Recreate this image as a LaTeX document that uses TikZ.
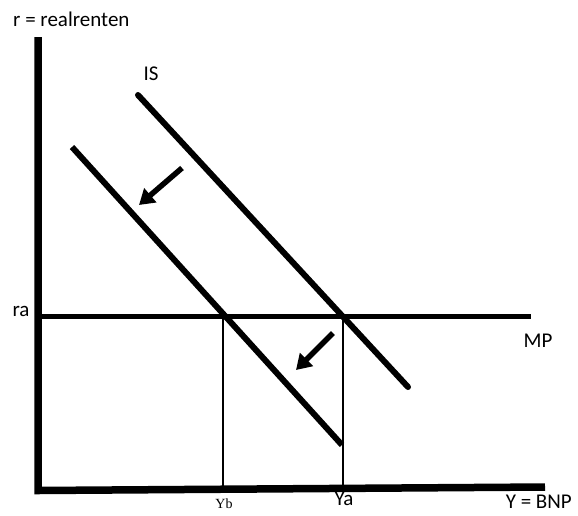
\documentclass[tikz,border=0pt]{standalone}
\usepackage{fontspec}
\setmainfont{Carlito}
\newfontfamily\smallserif{Liberation Serif}
\usetikzlibrary{arrows.meta}
\tikzset{>={Triangle[length=15pt,width=18pt]}}
\tikzset{
  axisline/.style={line width=7.5pt},
  curveline/.style={line width=6pt, line cap=round},
  guideline/.style={line width=1.6pt},
  shiftarrow/.style={line width=5.5pt, ->},
  lbl/.style={inner sep=0pt, font=\fontsize{21}{24}\selectfont}
}

\begin{document}
\begin{tikzpicture}[x=1pt, y=-1pt]
  \useasboundingbox (0,0) rectangle (578,515);

  % punkter
  \coordinate (O) at (38,487);
  \coordinate (Ytop) at (38,37);
  \coordinate (Xend) at (545,487);
  \coordinate (Ra) at (38,316);
  \coordinate (MPend) at (531,316);
  \coordinate (IS1) at (138,95);
  \coordinate (IS2) at (408,387);
  \coordinate (ISb1) at (72,147);
  \coordinate (ISb2) at (342,445);
  \coordinate (B) at (223,316);
  \coordinate (A) at (343,316);
  \coordinate (Bx) at (223,487);
  \coordinate (Ax) at (343,487);
  \coordinate (P1) at (182,168);
  \coordinate (Q1) at (139,205);
  \coordinate (P2) at (333,333);
  \coordinate (Q2) at (296,370);

  % akser
  \draw[axisline] (Ytop) -- ([yshift=-3.5pt]O) -- (Xend);

  % kurver
  \draw[line width=5pt] (Ra) -- (MPend);
  \draw[curveline] (IS1) -- (IS2);
  \draw[curveline, line cap=butt] (ISb1) -- (ISb2);
  \draw[guideline] (B) -- (Bx);
  \draw[guideline] (A) -- (Ax);

  % pile
  \draw[shiftarrow] (P1) -- (Q1);
  \draw[shiftarrow] (P2) -- (Q2);

  % tekster
  \node[lbl, anchor=west] (rlab) at (13,19) {r = realrenten};
  \node[lbl] (islab) at (151,74) {IS};
  \node[lbl] (ralab) at (21,311) {ra};
  \node[lbl] (mplab) at (538,341) {MP};
  \node[inner sep=0pt, font=\smallserif\fontsize{14}{16}\selectfont] (yblab) at (224,504) {Yb};
  \node[lbl] (yalab) at (344,499) {Ya};
  \node[lbl, anchor=east] (ylab) at (572,502) {Y = BNP};
\end{tikzpicture}
\end{document}
